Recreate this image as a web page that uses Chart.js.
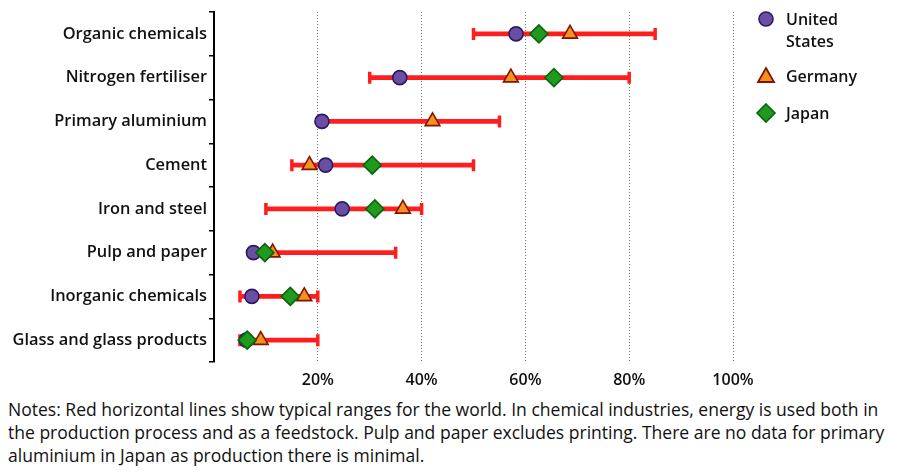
<!DOCTYPE html>
<html>
<head>
<meta charset="utf-8">
<script src="https://cdn.jsdelivr.net/npm/chart.js@4.4.1/dist/chart.umd.min.js"></script>
<style>
  html, body { margin: 0; padding: 0; background: #fff; }
  #wrap { position: relative; width: 898px; height: 474px; overflow: hidden; font-family: "Open Sans", Lato, sans-serif; color: #111; }
  #chartBox { position: absolute; left: 0; top: 0; width: 898px; height: 395px; }
  #legend { position: absolute; left: 752px; top: 0; width: 146px; }
  .li { position: absolute; left: 0; }
  .li svg { position: absolute; }
  .li span { position: absolute; left: 34px; top: 0; font-size: 16px; font-weight: 600; line-height: 22px; white-space: nowrap; }
  #notes { position: absolute; left: 8px; top: 398px; width: 890px; font-size: 17.55px; font-weight: 500; line-height: 23px; white-space: nowrap; }
</style>
</head>
<body>
<div id="wrap">
  <div id="chartBox"><canvas id="c" width="898" height="395"></canvas></div>
  <div id="legend"></div>
  <div id="notes">Notes: Red horizontal lines show typical ranges for the world. In chemical industries, energy is used both in<br>the production process and as a feedstock. Pulp and paper excludes printing. There are no data for primary<br>aluminium in Japan as production there is minimal.</div>
</div>
<script>
const categories = ['Organic chemicals', 'Nitrogen fertiliser', 'Primary aluminium', 'Cement', 'Iron and steel', 'Pulp and paper', 'Inorganic chemicals', 'Glass and glass products'];
const rangeLow  = [50, 30, 21, 15, 10, 8, 5, 5];
const rangeHigh = [85, 80, 55, 50, 40, 35, 20, 20];
const unitedStates = [58.2, 35.8, 20.8, 21.5, 24.7, 7.6, 7.3, 6.2];
const germany      = [68.6, 57.2, 42.1, 18.4, 36.4, 11.3, 17.4, 9.0];
const japan        = [62.6, 65.5, null, 30.5, 31.0, 9.8, 14.7, 6.4];
const xTickValues = [20, 40, 60, 80, 100];
const seriesNames = ['United States', 'Germany', 'Japan'];

const RED = '#ff1e1e';
const styles = {
  us: { bg: '#6a4ea6', border: '#2a1b5e', shape: 'circle', r: 7 },
  de: { bg: '#f7901e', border: '#7d1600', shape: 'triangle', r: 8.5 },
  jp: { bg: '#1f9a1f', border: '#0c640c', shape: 'rectRot', r: 9 }
};

function pts(arr) {
  const out = [];
  arr.forEach((v, i) => { if (v !== null && v !== undefined) out.push({ x: v, y: categories[i] }); });
  return out;
}
function markerSet(label, arr, st, order) {
  return {
    type: 'scatter', label, data: pts(arr), order,
    pointStyle: st.shape, pointRadius: st.r, pointHoverRadius: st.r,
    backgroundColor: st.bg, borderColor: st.border, pointBorderWidth: 1.6, borderWidth: 1.6, showLine: false
  };
}

const FONT = "'Open Sans', Lato, sans-serif";
const CH_LEFT = 214, CH_TOP = 12, CH_BOTTOM = 362, CH_RIGHT = 733, H = 395;

new Chart(document.getElementById('c'), {
  type: 'bar',
  data: {
    labels: categories,
    datasets: [
      markerSet(seriesNames[2], japan, styles.jp, 0),
      markerSet(seriesNames[1], germany, styles.de, 1),
      markerSet(seriesNames[0], unitedStates, styles.us, 2),
      {
        type: 'scatter', label: 'caps', order: 3,
        data: pts(rangeLow).concat(pts(rangeHigh)),
        pointStyle: 'line', rotation: 90, pointRadius: 6, pointHoverRadius: 6,
        borderColor: RED, backgroundColor: RED, pointBorderWidth: 3.5, borderWidth: 3.5, showLine: false
      },
      {
        type: 'bar', label: 'range', order: 4, indexAxis: 'y',
        data: rangeLow.map((l, i) => [l, rangeHigh[i]]),
        backgroundColor: RED, borderWidth: 0, barThickness: 4, borderSkipped: false
      }
    ]
  },
  options: {
    indexAxis: 'y',
    responsive: false,
    maintainAspectRatio: false,
    animation: false,
    devicePixelRatio: 1,
    layout: { padding: { left: 0, top: CH_TOP, right: 898 - CH_RIGHT, bottom: 0 } },
    plugins: { legend: { display: false }, tooltip: { enabled: false } },
    scales: {
      x: {
        type: 'linear', min: 0, max: 100,
        afterBuildTicks: (s) => { s.ticks = [{ value: 0 }].concat(xTickValues.map(v => ({ value: v }))); },
        afterFit: (s) => { s.height = H - CH_BOTTOM; },
        border: { display: false, dash: [1, 2] },
        grid: {
          drawTicks: false,
          color: (ctx) => ctx.tick && ctx.tick.value === 0 ? 'rgba(0,0,0,0)' : '#7a7a7a',
          lineWidth: 1
        },
        ticks: {
          padding: 9,
          color: '#111',
          font: { family: FONT, size: 16, weight: '600' },
          callback: (v) => v === 0 ? '' : v + '%'
        }
      },
      y: {
        type: 'category', labels: categories, offset: true,
        afterFit: (s) => { s.width = CH_LEFT; },
        border: { display: true, color: '#000', width: 2 },
        grid: { offset: true, drawOnChartArea: false, drawTicks: true, tickLength: 5, color: '#000', lineWidth: 1.5 },
        ticks: { padding: 2, color: '#111', font: { family: FONT, size: 16.4, weight: '600' } }
      }
    }
  }
});

// HTML legend
const legend = document.getElementById('legend');
const legendItems = [
  { name: 'United\nStates', st: styles.us, y: 19 },
  { name: 'Germany', st: styles.de, y: 76 },
  { name: 'Japan', st: styles.jp, y: 113 }
];
legendItems.forEach(it => {
  const d = document.createElement('div');
  d.className = 'li';
  d.style.top = (it.y - 11) + 'px';
  let shape = '';
  if (it.st.shape === 'circle') shape = `<circle cx="11" cy="11" r="7" fill="${it.st.bg}" stroke="${it.st.border}" stroke-width="1.6"/>`;
  else if (it.st.shape === 'triangle') shape = `<polygon points="11,3 19,17 3,17" fill="${it.st.bg}" stroke="${it.st.border}" stroke-width="1.8"/>`;
  else shape = `<polygon points="11,2 20,11 11,20 2,11" fill="${it.st.bg}" stroke="${it.st.border}" stroke-width="1.6"/>`;
  d.innerHTML = `<svg width="22" height="22" style="left:3px;top:0">${shape}</svg><span>${it.name.replace('\n', '<br>')}</span>`;
  legend.appendChild(d);
});
</script>
</body>
</html>
